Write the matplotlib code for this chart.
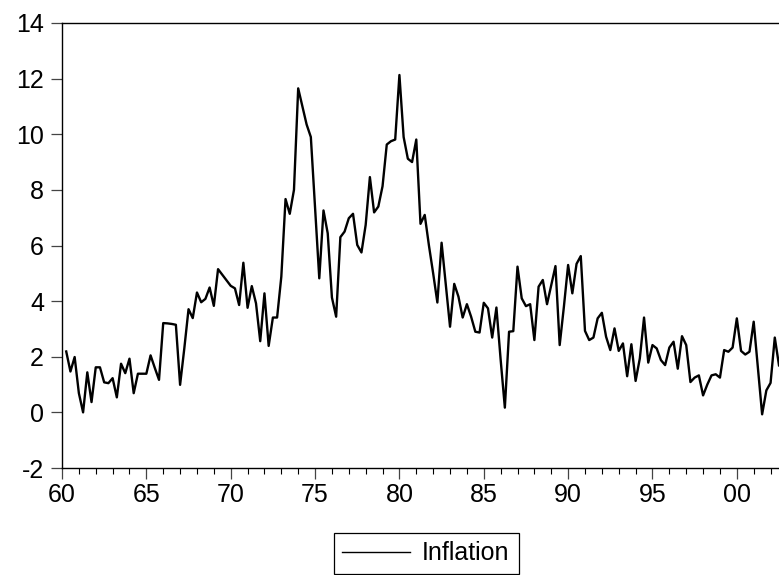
import numpy as np
import matplotlib
matplotlib.use('Agg')
import matplotlib.pyplot as plt
from matplotlib.ticker import MultipleLocator, FixedLocator

plt.rcParams['font.family'] = ['Liberation Sans', 'DejaVu Sans']

# quarterly inflation, 1960Q2 onward
inflation = [
    2.19, 1.47, 1.99, 0.69, 0.00, 1.44, 0.37, 1.62, 1.62, 1.08,
    1.05, 1.23, 0.54, 1.75, 1.41, 1.93, 0.69, 1.39, 1.39, 1.39,
    2.05, 1.60, 1.17, 3.21, 3.20, 3.18, 3.15, 0.99, 2.30, 3.71,
    3.39, 4.31, 3.96, 4.08, 4.49, 3.83, 5.15, 4.95, 4.75, 4.55,
    4.46, 3.86, 5.38, 3.76, 4.54, 3.92, 2.56, 4.28, 2.39, 3.41,
    3.41, 4.88, 7.67, 7.14, 8.00, 11.65, 11.00, 10.35, 9.90, 7.36,
    4.82, 7.26, 6.44, 4.13, 3.44, 6.30, 6.50, 6.98, 7.14, 6.02,
    5.75, 6.74, 8.46, 7.19, 7.40, 8.13, 9.63, 9.75, 9.81, 12.13,
    9.90, 9.12, 9.00, 9.81, 6.78, 7.10, 6.00, 5.00, 3.95, 6.10,
    4.60, 3.08, 4.62, 4.16, 3.41, 3.89, 3.44, 2.90, 2.87, 3.94,
    3.74, 2.69, 3.77, 1.90, 0.17, 2.90, 2.92, 5.24, 4.10, 3.82,
    3.89, 2.60, 4.52, 4.76, 3.89, 4.58, 5.26, 2.42, 3.80, 5.30,
    4.28, 5.34, 5.62, 2.93, 2.60, 2.69, 3.38, 3.58, 2.72, 2.24,
    3.02, 2.21, 2.48, 1.30, 2.45, 1.13, 1.94, 3.41, 1.79, 2.42,
    2.30, 1.88, 1.70, 2.33, 2.54, 1.57, 2.74, 2.42, 1.09, 1.25,
    1.33, 0.61, 1.00, 1.33, 1.37, 1.25, 2.24, 2.18, 2.33, 3.38,
    2.21, 2.08, 2.18, 3.26, 1.60, -0.07, 0.79, 1.06, 2.69, 1.69,
]
start_year = 1960.25
dates = start_year + 0.25 * np.arange(len(inflation))

major_years = [1960, 1965, 1970, 1975, 1980, 1985, 1990, 1995, 2000]
year_labels = ['60', '65', '70', '75', '80', '85', '90', '95', '00']
y_ticks = [-2, 0, 2, 4, 6, 8, 10, 12, 14]

fig = plt.figure(figsize=(7.79, 5.75), dpi=100)
ax = fig.add_axes([62/779, 1 - 468/575, 717/779, 445/575])

ax.plot(dates, inflation, color='black', lw=1.7, label='Inflation')

ax.set_xlim(1960, 2002.5)
ax.set_ylim(-2, 14)
ax.xaxis.set_major_locator(FixedLocator(major_years))
ax.set_xticklabels(year_labels)
ax.xaxis.set_minor_locator(MultipleLocator(1))
ax.set_yticks(y_ticks)
ax.set_yticklabels([str(v) for v in y_ticks])

ax.spines['right'].set_visible(False)
for s in ['left', 'bottom', 'top']:
    ax.spines[s].set_linewidth(1.0)
ax.tick_params(axis='both', which='major', direction='out', length=8,
               width=0.9, labelsize=18, color='#444444')
ax.tick_params(axis='x', which='major', pad=3)
ax.tick_params(axis='y', which='major', pad=5)
ax.tick_params(axis='x', which='minor', direction='out', length=4, width=0.8)

leg = fig.legend(loc='center', bbox_to_anchor=(426/779, 1 - 553.5/575),
                 fontsize=18, handlelength=2.7, handletextpad=0.5,
                 borderpad=0.35, fancybox=False, edgecolor='black', framealpha=1)
leg.get_frame().set_linewidth(0.9)
for ln in leg.get_lines():
    ln.set_linewidth(1.0)

fig.savefig('out.png', dpi=100)
